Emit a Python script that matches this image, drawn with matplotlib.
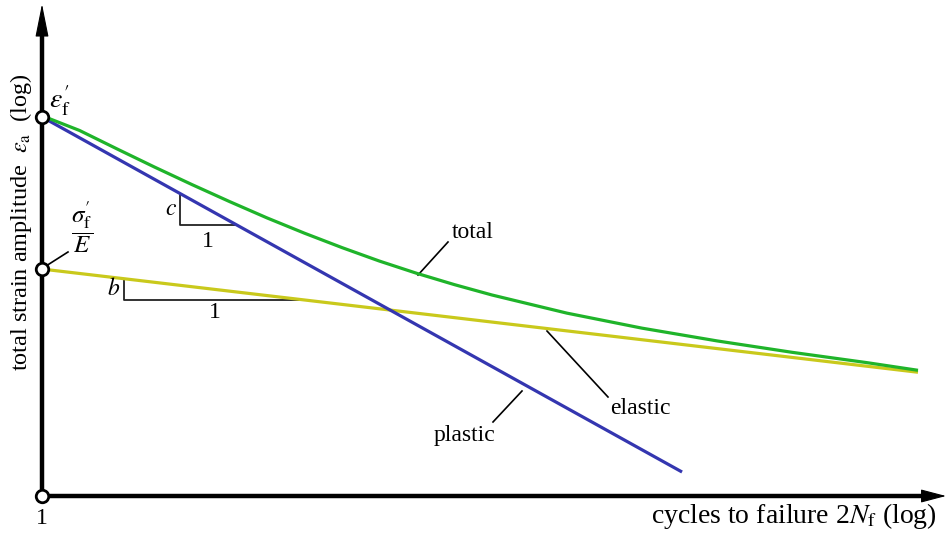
import numpy as np
import matplotlib.pyplot as plt

plt.rcParams['font.family'] = ['Liberation Serif', 'DejaVu Serif']
plt.rcParams['mathtext.fontset'] = 'stix'

# schematic strain-life curves, log10 units (x = log 2Nf, y = log strain, shifted)
plastic_x = [0.0, 4.267]
plastic_y = [2.527, 0.16]
elastic_x = [0.0, 5.84]
elastic_y = [1.513, 0.825]
total_x = [0.0, 0.25, 0.5, 0.75, 1.0, 1.25, 1.5, 1.75, 2.0, 2.25, 2.5, 2.75,
           3.0, 3.5, 4.0, 4.5, 5.0, 5.5, 5.84]
total_y = [2.535, 2.437, 2.314, 2.193, 2.076, 1.963, 1.854, 1.752, 1.656, 1.566,
           1.484, 1.409, 1.340, 1.219, 1.119, 1.034, 0.958, 0.889, 0.838]

# slope triangles (x start, x end)
tri_c = [0.92, 1.293]
tri_b = [0.547, 1.753]

green = '#1fb42a'
blue = '#3436b0'
yellow = '#c9c91c'

# pixel -> data helper (150 px per decade, origin at pixel (42, 496))
def P(px, py):
    return ((px - 42) / 150, (496 - py) / 150)

fig = plt.figure(figsize=(9.46, 5.39), dpi=100)
ax = fig.add_axes([0, 0, 1, 1])
ax.set_xlim(-42 / 150, 904 / 150)
ax.set_ylim(-43 / 150, 496 / 150)
ax.axis('off')

# curves
ax.plot(elastic_x, elastic_y, color=yellow, lw=2.3, solid_capstyle='butt', zorder=3)
ax.plot(plastic_x, plastic_y, color=blue, lw=2.3, solid_capstyle='butt', zorder=3)
ax.plot(total_x, total_y, color=green, lw=2.3, solid_capstyle='butt', zorder=4)

# axes lines + arrow heads
ax.plot([0, P(930, 0)[0]], [0, 0], color='black', lw=3.2, solid_capstyle='butt', zorder=5)
ax.plot([0, 0], [0, P(0, 20)[1]], color='black', lw=3.2, solid_capstyle='butt', zorder=5)
ax.annotate('', xy=P(946, 496), xytext=P(900, 496),
            arrowprops=dict(arrowstyle='-|>,head_length=1.6,head_width=0.42',
                            mutation_scale=10, lw=0.8, color='black',
                            shrinkA=0, shrinkB=0), zorder=5)
ax.annotate('', xy=P(42, 4), xytext=P(42, 60),
            arrowprops=dict(arrowstyle='-|>,head_length=2.1,head_width=0.42',
                            mutation_scale=10, lw=0.8, color='black',
                            shrinkA=0, shrinkB=0), zorder=5)

# open circles on the axis
ax.plot([0, 0, 0], [0, plastic_y[0], elastic_y[0]], 'o', ms=9, mfc='white',
        mec='black', mew=2.0, zorder=6, clip_on=False)

# slope triangles
cy0 = np.interp(tri_c[0], plastic_x, plastic_y)
cy1 = np.interp(tri_c[1], plastic_x, plastic_y)
ax.plot([tri_c[0], tri_c[0], tri_c[1]], [cy0, cy1, cy1], color='#222222', lw=1.3, zorder=2)
by0 = np.interp(tri_b[0], elastic_x, elastic_y)
by1 = np.interp(tri_b[1], elastic_x, elastic_y)
ax.plot([tri_b[0], tri_b[0], tri_b[1]], [by0, by1, by1], color='#222222', lw=1.3, zorder=2)

fs = 17
ax.text(tri_c[0] - 0.06, (cy0 + cy1) / 2, '$c$', fontsize=fs, ha='center', va='center')
ax.text((tri_c[0] + tri_c[1]) / 2, cy1 - 0.11, '1', fontsize=fs, ha='center', va='center')
ax.text(tri_b[0] - 0.07, (by0 + by1) / 2, '$b$', fontsize=fs, ha='center', va='center')
ax.text((tri_b[0] + tri_b[1]) / 2, by1 - 0.08, '1', fontsize=fs, ha='center', va='center')

# labels with pointer lines
def pointer(p0, p1):
    ax.plot([p0[0], p1[0]], [p0[1], p1[1]], color='black', lw=1.2, zorder=2)

pointer(P(418, 275), P(448, 242))
ax.text(*P(473, 233), 'total', fontsize=fs, ha='center', va='center')
pointer(P(547, 331), P(608, 397))
ax.text(*P(640, 408), 'elastic', fontsize=fs, ha='center', va='center')
pointer(P(522, 391), P(493, 422))
ax.text(*P(464, 435), 'plastic', fontsize=fs, ha='center', va='center')
pointer(P(46, 266), P(68, 252))

ax.text(*P(49, 101), r"$\varepsilon_{\mathrm{f}}^{\prime}$", fontsize=20, ha='left', va='center')
ax.text(*P(82, 227), r"$\dfrac{\sigma_{\mathrm{f}}^{\prime}}{E}$", fontsize=18, ha='center', va='center')

ax.text(*P(42, 519), '1', fontsize=fs, ha='center', va='center')
ax.text(*P(937, 516), r'cycles to failure 2$N_{\mathrm{f}}$ (log)', fontsize=20,
        ha='right', va='center')
ax.text(*P(21, 222), r'total strain amplitude  $\varepsilon_{\mathrm{a}}$  (log)', fontsize=17.5,
        ha='center', va='center', rotation=90)

fig.savefig('out.png', dpi=100)
